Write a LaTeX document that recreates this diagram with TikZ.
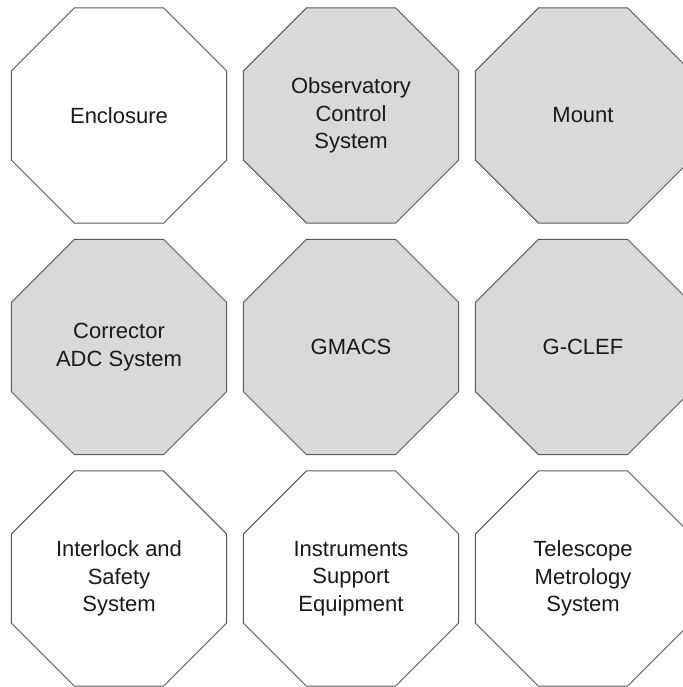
\documentclass[tikz,border=0pt]{standalone}
\usepackage{fontspec}
\setmainfont{Liberation Sans}
\usetikzlibrary{shapes.geometric}
\definecolor{edgegrey}{HTML}{595959}
\definecolor{boxgrey}{HTML}{D9D9D9}
\tikzset{
    oct/.style = {draw=edgegrey, line width=1pt, regular polygon, regular polygon sides=8,
        minimum size=233pt, inner sep=0pt, fill=white,
        align=center, text=black!90, font=\fontsize{22}{27.3}\selectfont},
    octgrey/.style = {oct, fill=boxgrey}
}

\begin{document}
\begin{tikzpicture}[x=1pt,y=-1pt]
                \useasboundingbox (0,0) rectangle (682,687);
                \node[oct] (encl) at (119,115.5) {Enclosure};
                \node[octgrey] (ocs) at (351,115.5) {Observatory\\Control\\System};
                \node[octgrey] (mount) at (583,115.5) {Mount};
                \node[octgrey] (adc) at (119,347) {Corrector\\ADC System};
                \node[octgrey] (gmacs) at (351,347) {GMACS};
                \node[octgrey] (gclef) at (583,347) {G-CLEF};
                \node[oct] (iss) at (119,578.5) {Interlock and\\Safety\\System};
                \node[oct] (ise) at (351,578.5) {Instruments\\Support\\Equipment};
                \node[oct] (tms) at (583,578.5) {Telescope\\Metrology\\System};
            \end{tikzpicture}
\end{document}
